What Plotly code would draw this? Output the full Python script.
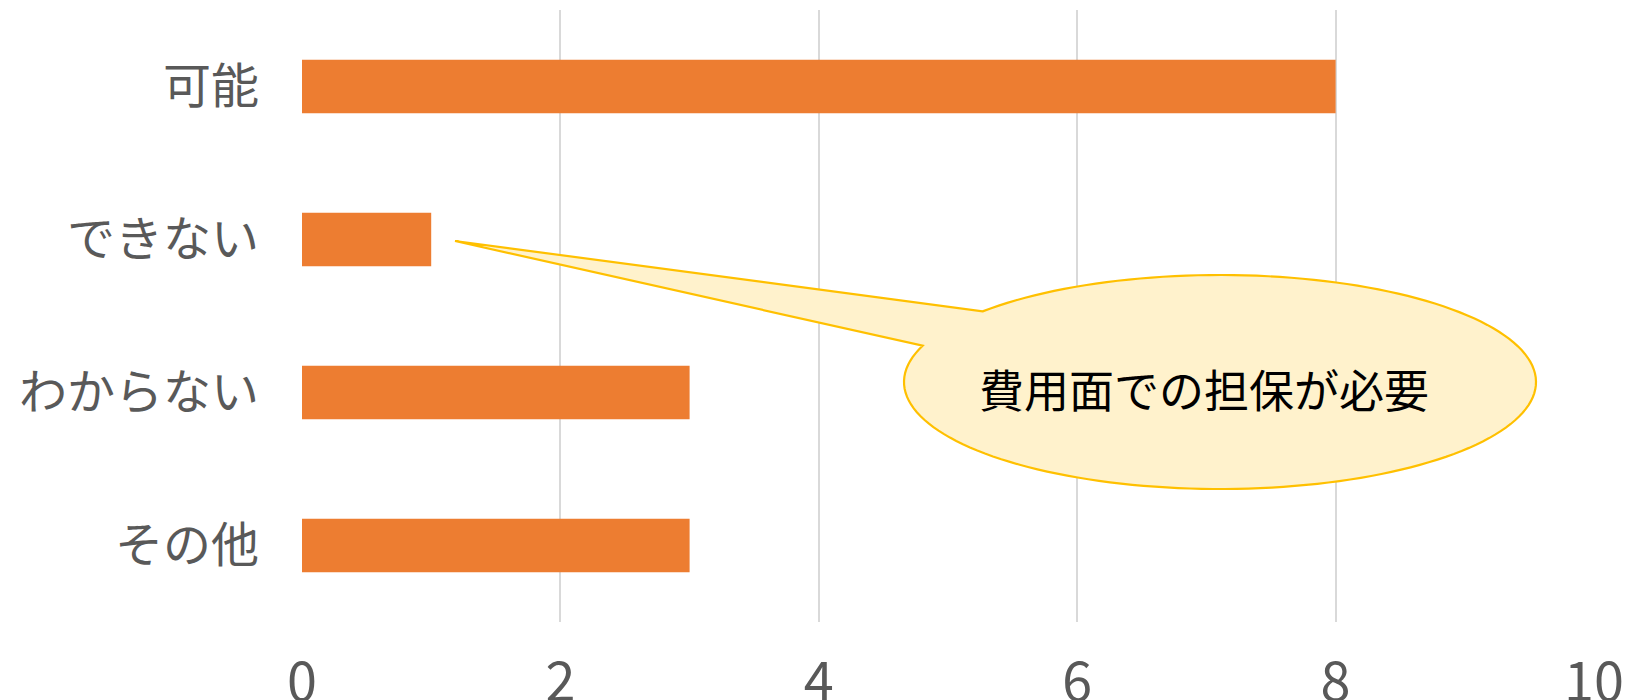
import numpy as np
import plotly.graph_objects as go

categories = ["可能", "できない", "わからない", "その他"]
values = [8, 1, 3, 3]
x_ticks = [0, 2, 4, 6, 8, 10]
callout_text = "費用面での担保が必要"

W, H = 1632, 700
ML, MR, MT, MB = 302, 38, 10, 78
PW, PH = W - ML - MR, H - MT - MB

def to_paper(px, py):
    return (px - ML) / PW, (H - MB - py) / PH

fig = go.Figure(go.Bar(
    y=categories, x=values, orientation="h",
    marker=dict(color="#ED7D31", line=dict(width=0)),
    width=0.35,
))

# callout bubble (pixel geometry -> paper coords)
cx, cy, rx, ry = 1220, 382, 316, 107
t0, t1 = np.deg2rad(-138.7), np.deg2rad(199.8)
ts = np.linspace(t0, t1, 160)
pts = [(cx + rx * np.cos(t), cy + ry * np.sin(t)) for t in ts]
pts.append((455, 241))
path = ""
for i, (px, py) in enumerate(pts):
    u, v = to_paper(px, py)
    path += ("M" if i == 0 else "L") + f"{u:.5f},{v:.5f} "
path += "Z"
fig.add_shape(type="path", path=path, xref="paper", yref="paper",
              fillcolor="#FFF2CC", line=dict(color="#FFC000", width=2.2), layer="above")

tu, tv = to_paper(1204, 388)
fig.add_annotation(x=tu, y=tv, xref="paper", yref="paper", text=callout_text,
                   showarrow=False, font=dict(family="Noto Sans CJK JP", size=45, color="#000000"),
                   xanchor="center", yanchor="middle")

fig.update_layout(
    width=W, height=H, autosize=False,
    margin=dict(l=ML, r=MR, t=MT, b=MB, pad=0),
    paper_bgcolor="white", plot_bgcolor="white",
    showlegend=False,
    bargap=0.65,
)
fig.update_xaxes(
    range=[0, 10], tickvals=x_ticks, ticktext=[str(v) for v in x_ticks],
    showgrid=True, gridcolor="#D9D9D9", gridwidth=1.5,
    zeroline=False, showline=False, ticks="", automargin=False,
    tickfont=dict(family="Liberation Sans Narrow, Noto Sans CJK JP", size=54, color="#595959"),
    ticklabelstandoff=24,
)
fig.update_yaxes(
    categoryorder="array", categoryarray=categories, autorange="reversed",
    showgrid=False, zeroline=False, showline=False, ticks="", automargin=False,
    tickfont=dict(family="Noto Sans CJK JP", size=48, color="#595959"),
    ticklabelstandoff=42,
)

fig.write_html("out.html")
